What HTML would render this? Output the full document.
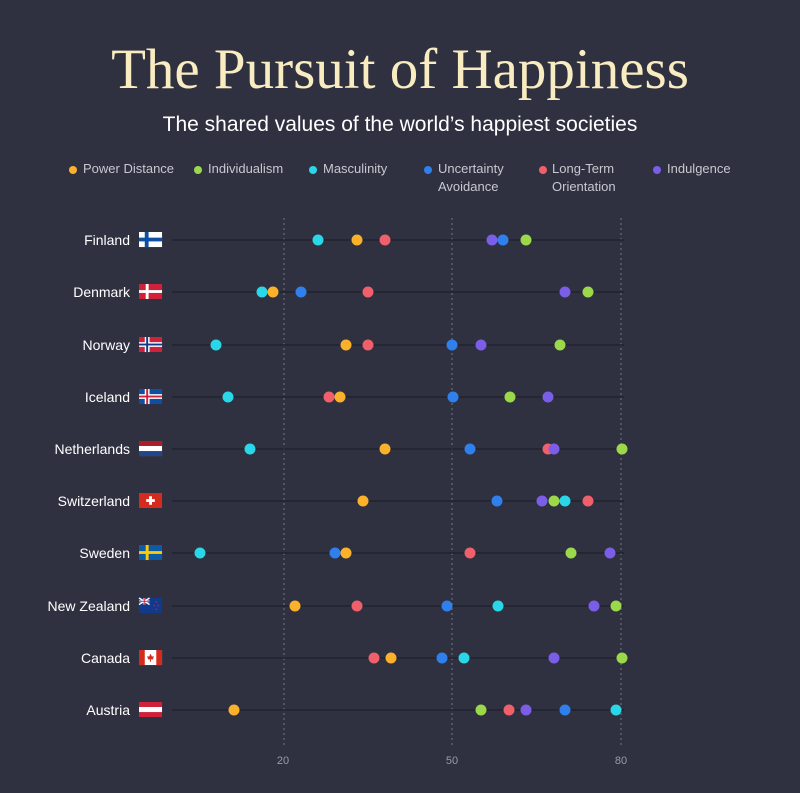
<!DOCTYPE html>
<html><head><meta charset="utf-8"><style>
body{margin:0;background:#2f3040;}
svg{display:block}
</style></head><body>
<svg width="800" height="793" viewBox="0 0 800 793" xmlns="http://www.w3.org/2000/svg">
<defs>
<g id="fi"><rect width="24" height="16" fill="#fff"/><rect x="6" width="4" height="16" fill="#0d4fa0"/><rect y="6" width="24" height="4" fill="#0d4fa0"/></g>
<g id="dk"><rect width="24" height="16" fill="#d0213a"/><rect x="7" width="3" height="16" fill="#fff"/><rect y="6.5" width="24" height="3" fill="#fff"/></g>
<g id="no"><rect width="24" height="16" fill="#d0213a"/><rect x="6" width="5" height="16" fill="#fff"/><rect y="5.5" width="24" height="5" fill="#fff"/><rect x="7.5" width="2" height="16" fill="#0d3a8c"/><rect y="7" width="24" height="2" fill="#0d3a8c"/></g>
<g id="is"><rect width="24" height="16" fill="#0d4fa0"/><rect x="6" width="5" height="16" fill="#fff"/><rect y="5.5" width="24" height="5" fill="#fff"/><rect x="7.5" width="2" height="16" fill="#d0213a"/><rect y="7" width="24" height="2" fill="#d0213a"/></g>
<g id="nl"><rect width="24" height="16" fill="#fff"/><rect width="24" height="5.3" fill="#ae1c28"/><rect y="10.7" width="24" height="5.3" fill="#21468b"/></g>
<g id="ch"><rect width="24" height="16" fill="#d52b1e"/><rect x="10.5" y="3.5" width="3" height="9" fill="#fff"/><rect x="7.5" y="6.5" width="9" height="3" fill="#fff"/></g>
<g id="se"><rect width="24" height="16" fill="#0d5aa7"/><rect x="7" width="3" height="16" fill="#fecc00"/><rect y="6.5" width="24" height="3" fill="#fecc00"/></g>
<g id="nz"><rect width="24" height="16" fill="#123a8c"/><path d="M0 0L11 7M11 0L0 7" stroke="#fff" stroke-width="1.5"/><rect x="4.5" width="2" height="7" fill="#fff"/><rect y="2.5" width="11" height="2" fill="#fff"/><rect x="5" width="1" height="7" fill="#d0213a"/><rect y="3" width="11" height="1" fill="#d0213a"/><circle cx="18" cy="4" r=".8" fill="#d0213a"/><circle cx="20" cy="8" r=".8" fill="#d0213a"/><circle cx="16" cy="8" r=".8" fill="#d0213a"/><circle cx="18" cy="12" r=".8" fill="#d0213a"/></g>
<g id="ca"><rect width="24" height="16" fill="#fff"/><rect width="6" height="16" fill="#d52b1e"/><rect x="18" width="6" height="16" fill="#d52b1e"/><path d="M12 4l1.5 3 2-.5-1 3.5h-5l-1-3.5 2 .5z" fill="#d52b1e"/><rect x="11.5" y="10" width="1" height="2.5" fill="#d52b1e"/></g>
<g id="at"><rect width="24" height="16" fill="#d0213a"/><rect y="5.3" width="24" height="5.4" fill="#fff"/></g>
</defs>
<rect width="800" height="793" fill="#2f3040"/>
<text x="400" y="88" text-anchor="middle" font-family="Liberation Serif, serif" font-size="57" fill="#f8ecc0">The Pursuit of Happiness</text>
<text x="400" y="131" text-anchor="middle" font-family="Liberation Sans, sans-serif" font-size="21" fill="#ffffff">The shared values of the world’s happiest societies</text>
<g font-family="Liberation Sans, sans-serif" font-size="13" fill="#c8c8d0">
<circle cx="73" cy="170" r="4" fill="#fbb12a"/><text x="83" y="173">Power Distance</text>
<circle cx="198" cy="170" r="4" fill="#9bd94a"/><text x="208" y="173">Individualism</text>
<circle cx="313" cy="170" r="4" fill="#2ad7e8"/><text x="323" y="173">Masculinity</text>
<circle cx="428" cy="170" r="4" fill="#2f80ed"/><text x="438" y="173">Uncertainty</text><text x="438" y="191">Avoidance</text>
<circle cx="543" cy="170" r="4" fill="#f0606a"/><text x="552" y="173">Long-Term</text><text x="552" y="191">Orientation</text>
<circle cx="657" cy="170" r="4" fill="#7b5ee8"/><text x="667" y="173">Indulgence</text>
</g>
<g stroke="#6a6b7a" stroke-width="1.2" stroke-dasharray="2,3">
<line x1="284" y1="218" x2="284" y2="745"/><line x1="452" y1="218" x2="452" y2="745"/><line x1="621" y1="218" x2="621" y2="745"/>
</g>
<g font-family="Liberation Sans, sans-serif" font-size="11" fill="#9a9aa8" text-anchor="middle">
<text x="283" y="764">20</text><text x="452" y="764">50</text><text x="621" y="764">80</text>
</g>
<g stroke="#22232f" stroke-width="1.5">
<line x1="172" y1="240" x2="624" y2="240"/><line x1="172" y1="292" x2="624" y2="292"/><line x1="172" y1="345" x2="624" y2="345"/><line x1="172" y1="397" x2="624" y2="397"/><line x1="172" y1="449" x2="624" y2="449"/><line x1="172" y1="501" x2="624" y2="501"/><line x1="172" y1="553" x2="624" y2="553"/><line x1="172" y1="606" x2="624" y2="606"/><line x1="172" y1="658" x2="624" y2="658"/><line x1="172" y1="710" x2="624" y2="710"/>
</g>
<g font-family="Liberation Sans, sans-serif" font-size="14" fill="#ffffff" text-anchor="end">
<text x="130" y="245">Finland</text><text x="130" y="297">Denmark</text><text x="130" y="350">Norway</text><text x="130" y="402">Iceland</text><text x="130" y="454">Netherlands</text><text x="130" y="506">Switzerland</text><text x="130" y="558">Sweden</text><text x="130" y="611">New Zealand</text><text x="130" y="663">Canada</text><text x="130" y="715">Austria</text>
</g>
<use href="#fi" transform="translate(139,232) scale(0.96,0.94)"/>
<use href="#dk" transform="translate(139,284) scale(0.96,0.94)"/>
<use href="#no" transform="translate(139,337) scale(0.96,0.94)"/>
<use href="#is" transform="translate(139,389) scale(0.96,0.94)"/>
<use href="#nl" transform="translate(139,441) scale(0.96,0.94)"/>
<use href="#ch" transform="translate(139,493) scale(0.96,0.94)"/>
<use href="#se" transform="translate(139,545) scale(0.96,0.94)"/>
<use href="#nz" transform="translate(139,598) scale(0.96,0.94)"/>
<use href="#ca" transform="translate(139,650) scale(0.96,0.94)"/>
<use href="#at" transform="translate(139,702) scale(0.96,0.94)"/>
<g>
<circle cx="318" cy="240" r="5.5" fill="#2ad7e8"/><circle cx="357" cy="240" r="5.5" fill="#fbb12a"/><circle cx="385" cy="240" r="5.5" fill="#f0606a"/><circle cx="492" cy="240" r="5.5" fill="#7b5ee8"/><circle cx="503" cy="240" r="5.5" fill="#2f80ed"/><circle cx="526" cy="240" r="5.5" fill="#9bd94a"/>
<circle cx="262" cy="292" r="5.5" fill="#2ad7e8"/><circle cx="273" cy="292" r="5.5" fill="#fbb12a"/><circle cx="301" cy="292" r="5.5" fill="#2f80ed"/><circle cx="368" cy="292" r="5.5" fill="#f0606a"/><circle cx="565" cy="292" r="5.5" fill="#7b5ee8"/><circle cx="588" cy="292" r="5.5" fill="#9bd94a"/>
<circle cx="216" cy="345" r="5.5" fill="#2ad7e8"/><circle cx="346" cy="345" r="5.5" fill="#fbb12a"/><circle cx="368" cy="345" r="5.5" fill="#f0606a"/><circle cx="452" cy="345" r="5.5" fill="#2f80ed"/><circle cx="481" cy="345" r="5.5" fill="#7b5ee8"/><circle cx="560" cy="345" r="5.5" fill="#9bd94a"/>
<circle cx="228" cy="397" r="5.5" fill="#2ad7e8"/><circle cx="329" cy="397" r="5.5" fill="#f0606a"/><circle cx="340" cy="397" r="5.5" fill="#fbb12a"/><circle cx="453" cy="397" r="5.5" fill="#2f80ed"/><circle cx="510" cy="397" r="5.5" fill="#9bd94a"/><circle cx="548" cy="397" r="5.5" fill="#7b5ee8"/>
<circle cx="250" cy="449" r="5.5" fill="#2ad7e8"/><circle cx="385" cy="449" r="5.5" fill="#fbb12a"/><circle cx="470" cy="449" r="5.5" fill="#2f80ed"/><circle cx="548" cy="449" r="5.5" fill="#f0606a"/><circle cx="554" cy="449" r="5.5" fill="#7b5ee8"/><circle cx="622" cy="449" r="5.5" fill="#9bd94a"/>
<circle cx="363" cy="501" r="5.5" fill="#fbb12a"/><circle cx="497" cy="501" r="5.5" fill="#2f80ed"/><circle cx="542" cy="501" r="5.5" fill="#7b5ee8"/><circle cx="554" cy="501" r="5.5" fill="#9bd94a"/><circle cx="565" cy="501" r="5.5" fill="#2ad7e8"/><circle cx="588" cy="501" r="5.5" fill="#f0606a"/>
<circle cx="200" cy="553" r="5.5" fill="#2ad7e8"/><circle cx="335" cy="553" r="5.5" fill="#2f80ed"/><circle cx="346" cy="553" r="5.5" fill="#fbb12a"/><circle cx="470" cy="553" r="5.5" fill="#f0606a"/><circle cx="571" cy="553" r="5.5" fill="#9bd94a"/><circle cx="610" cy="553" r="5.5" fill="#7b5ee8"/>
<circle cx="295" cy="606" r="5.5" fill="#fbb12a"/><circle cx="357" cy="606" r="5.5" fill="#f0606a"/><circle cx="447" cy="606" r="5.5" fill="#2f80ed"/><circle cx="498" cy="606" r="5.5" fill="#2ad7e8"/><circle cx="594" cy="606" r="5.5" fill="#7b5ee8"/><circle cx="616" cy="606" r="5.5" fill="#9bd94a"/>
<circle cx="374" cy="658" r="5.5" fill="#f0606a"/><circle cx="391" cy="658" r="5.5" fill="#fbb12a"/><circle cx="442" cy="658" r="5.5" fill="#2f80ed"/><circle cx="464" cy="658" r="5.5" fill="#2ad7e8"/><circle cx="554" cy="658" r="5.5" fill="#7b5ee8"/><circle cx="622" cy="658" r="5.5" fill="#9bd94a"/>
<circle cx="234" cy="710" r="5.5" fill="#fbb12a"/><circle cx="481" cy="710" r="5.5" fill="#9bd94a"/><circle cx="509" cy="710" r="5.5" fill="#f0606a"/><circle cx="526" cy="710" r="5.5" fill="#7b5ee8"/><circle cx="565" cy="710" r="5.5" fill="#2f80ed"/><circle cx="616" cy="710" r="5.5" fill="#2ad7e8"/>
</g>
</svg>
</body></html>
